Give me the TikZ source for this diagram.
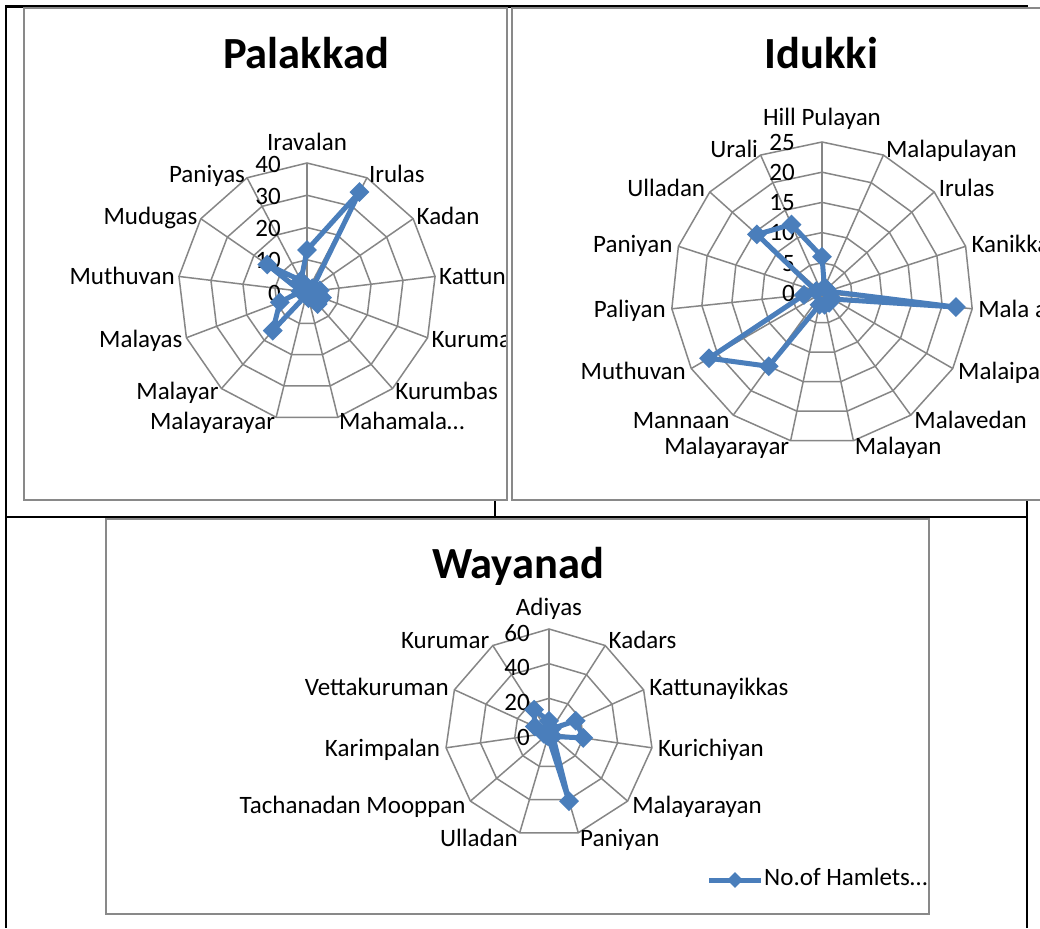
\documentclass[tikz,border=0pt]{standalone}
\usepackage{fontspec}
\setmainfont{Carlito}
\usetikzlibrary{shapes.geometric}
\definecolor{gridgray}{RGB}{134,134,134}
\definecolor{framegray}{RGB}{137,137,137}
\definecolor{serblue}{RGB}{74,126,187}
\begin{document}
\begin{tikzpicture}[x=1pt,y=-1pt,
  chartframe/.style={draw=framegray,line width=2pt},
  tableline/.style={draw=black,line width=2.6pt},
  gridline/.style={draw=gridgray,line width=1.5pt},
  series/.style={draw=serblue,line width=5pt,line join=round},
  dmark/.style={diamond,fill=serblue,draw=none,inner sep=0pt,minimum width=20pt,minimum height=20pt},
  catlabel/.style={font=\fontsize{25}{30}\selectfont,inner sep=0pt},
  axlabel/.style={font=\fontsize{25}{30}\selectfont,inner sep=0pt,anchor=base east},
  charttitle/.style={font=\fontsize{44.5}{52}\selectfont\bfseries,inner sep=0pt,anchor=base},
]
\clip (0,0) rectangle (1040,928);
\fill[white] (0,0) rectangle (1040,928);

% table lines
\draw[tableline] (6,5) -- (6,928);
\draw[tableline] (5,6.5) -- (1028,6.5);
\draw[tableline] (5,517) -- (1028,517);
\draw[tableline] (495,500) -- (495,517);
\draw[tableline] (1027,500) -- (1027,928);

% ================= Palakkad =================
\begin{scope}
\clip (24,8) rectangle (507,499.5);
\begin{scope}[shift={(307,292)}]
\def\rN{13}\def\rR{129}\def\rM{40}\def\rG{4}
\foreach \i in {0,...,12}
  \draw[gridline] (0,0) -- ({\rR*sin(360*\i/\rN)},{-\rR*cos(360*\i/\rN)});
\foreach \k in {1,...,4}
  \draw[gridline] (0,{-\k*\rR/4}) \foreach \i in {1,...,12}{ -- ({\k*\rR/4*sin(360*\i/\rN)},{-\k*\rR/4*cos(360*\i/\rN)})} -- cycle;
\foreach \k/\t in {0/0,1/10,2/20,3/30,4/40}
  \node[axlabel] (pa-ax\k) at (-26,{-\k*\rR/4+9}) {\t};
\node[catlabel,anchor=base] (pa-c0) at (0,{-\rR-12.6}) {Iravalan};
\foreach \t [count=\i] in {Irulas,Kadan,Kattun,Kuruma,Kurumbas,Mahamala…}
  \node[catlabel,anchor=base west] (pa-c\i) at ({(\rR+\rG)*sin(360*\i/\rN)},{-(\rR+\rG)*cos(360*\i/\rN)+8.3}) {\t};
\foreach \t [count=\j] in {Malayarayar,Malayar,Malayas,Muthuvan,Mudugas,Paniyas}{
  \pgfmathtruncatemacro\i{\j+6}
  \node[catlabel,anchor=base east] (pa-c\i) at ({(\rR+\rG)*sin(360*\i/\rN)},{-(\rR+\rG)*cos(360*\i/\rN)+8.3}) {\t};}
\foreach \v [count=\i from 0] in {13,35,2,4,5,5,2,1,16,9,2,15,4}
  \coordinate (pa-p\i) at ({\v*\rR/\rM*sin(360*\i/\rN)},{-\v*\rR/\rM*cos(360*\i/\rN)});
\draw[series] (pa-p0) \foreach \i in {1,...,12}{ -- (pa-p\i)} -- cycle;
\foreach \i in {0,...,12} \node[dmark] (pa-m\i) at (pa-p\i) {};
\end{scope}
\node[charttitle] (pa-title) at (306,68.5) {Palakkad};
\end{scope}
\draw[chartframe] (24,8) rectangle (507,499.5);

% ================= Idukki =================
\begin{scope}[shift={(822,293)}]
\def\rN{15}\def\rR{151}\def\rM{25}\def\rG{6}
\foreach \i in {0,...,14}
  \draw[gridline] (0,0) -- ({\rR*sin(360*\i/\rN)},{-\rR*cos(360*\i/\rN)});
\foreach \k in {1,...,5}
  \draw[gridline] (0,{-\k*\rR/5}) \foreach \i in {1,...,14}{ -- ({\k*\rR/5*sin(360*\i/\rN)},{-\k*\rR/5*cos(360*\i/\rN)})} -- cycle;
\foreach \k/\t in {0/0,1/5,2/10,3/15,4/20,5/25}
  \node[axlabel] (pb-ax\k) at (-27,{-\k*\rR/5+8.3}) {\t};
\node[catlabel,anchor=base] (pb-c0) at (0,{-\rR-16}) {Hill Pulayan};
\foreach \t [count=\i] in {Malapulayan,Irulas,Kanikka,Mala a,Malaipa,Malavedan,Malayan}
  \node[catlabel,anchor=base west] (pb-c\i) at ({(\rR+\rG)*sin(360*\i/\rN)},{-(\rR+\rG)*cos(360*\i/\rN)+8.3}) {\t};
\foreach \t [count=\j] in {Malayarayar,Mannaan,Muthuvan,Paliyan,Paniyan,Ulladan,Urali}{
  \pgfmathtruncatemacro\i{\j+7}
  \node[catlabel,anchor=base east] (pb-c\i) at ({(\rR+\rG)*sin(360*\i/\rN)},{-(\rR+\rG)*cos(360*\i/\rN)+8.3}) {\t};}
\foreach \v [count=\i from 0] in {6,1,1,1,22.3,2,2,2,2,15,21.6,3,1,14.5,12.4}
  \coordinate (pb-p\i) at ({\v*\rR/\rM*sin(360*\i/\rN)},{-\v*\rR/\rM*cos(360*\i/\rN)});
\draw[series] (pb-p0) \foreach \i in {1,...,14}{ -- (pb-p\i)} -- cycle;
\foreach \i in {0,...,14} \node[dmark] (pb-m\i) at (pb-p\i) {};
\end{scope}
\node[charttitle] (pb-title) at (821.5,68.5) {Idukki};
\draw[chartframe] (512,8) rectangle (1050,500);

% ================= Wayanad =================
\begin{scope}[shift={(549,733)}]
\def\rN{11}\def\rR{104}\def\rM{60}\def\rG{6}
\foreach \i in {0,...,10}
  \draw[gridline] (0,0) -- ({\rR*sin(360*\i/\rN)},{-\rR*cos(360*\i/\rN)});
\foreach \k in {1,...,3}
  \draw[gridline] (0,{-\k*\rR/3}) \foreach \i in {1,...,10}{ -- ({\k*\rR/3*sin(360*\i/\rN)},{-\k*\rR/3*cos(360*\i/\rN)})} -- cycle;
\foreach \k/\t in {0/0,1/20,2/40,3/60}
  \node[axlabel] (pc-ax\k) at (-19,{-\k*\rR/3+12}) {\t};
\node[catlabel,anchor=base] (pc-c0) at (0,{-\rR-14}) {Adiyas};
\foreach \t [count=\i] in {Kadars,Kattunayikkas,Kurichiyan,Malayarayan,Paniyan}
  \node[catlabel,anchor=base west] (pc-c\i) at ({(\rR+\rG)*sin(360*\i/\rN)},{-(\rR+\rG)*cos(360*\i/\rN)+8.3}) {\t};
\foreach \t [count=\j] in {Ulladan,Tachanadan Mooppan,Karimpalan,Vettakuruman,Kurumar}{
  \pgfmathtruncatemacro\i{\j+5}
  \node[catlabel,anchor=base east] (pc-c\i) at ({(\rR+\rG)*sin(360*\i/\rN)},{-(\rR+\rG)*cos(360*\i/\rN)+8.3}) {\t};}
\foreach \v [count=\i from 0] in {7,3,17,20,3,41,2,2,3,9,16}
  \coordinate (pc-p\i) at ({\v*\rR/\rM*sin(360*\i/\rN)},{-\v*\rR/\rM*cos(360*\i/\rN)});
\draw[series] (pc-p0) \foreach \i in {1,...,10}{ -- (pc-p\i)} -- cycle;
\foreach \i in {0,...,10} \node[dmark] (pc-m\i) at (pc-p\i) {};
\end{scope}
\node[charttitle] (pc-title) at (518,578.3) {Wayanad};
% legend
\coordinate (lg-a) at (709,880);
\coordinate (lg-b) at (761,880);
\draw[series] (lg-a) -- (lg-b);
\node[dmark,minimum width=16pt,minimum height=16pt] (lg-m) at (735,880) {};
\node[catlabel,anchor=base west] (lg-t) at (764,885.5) {No.of Hamlets…};
\draw[chartframe] (106,518.5) rectangle (929,914);
\end{tikzpicture}
\end{document}
